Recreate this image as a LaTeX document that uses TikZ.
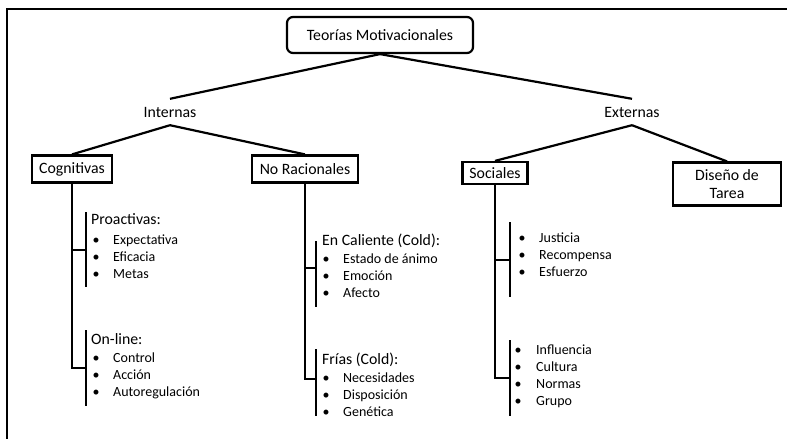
\documentclass[tikz,border=0pt]{standalone}
\usepackage{fontspec}
\setmainfont{Carlito}
\begin{document}
\begin{tikzpicture}[x=1pt,y=-1pt,
  ln/.style={line width=2.2pt},
  hdr/.style={font=\fontsize{15.8}{19}\selectfont, inner sep=0pt},
  bx/.style={draw, line width=2.2pt, inner sep=0pt, font=\fontsize{15.8}{19}\selectfont},
  itm/.style={font=\fontsize{14}{17}\selectfont, inner sep=0pt, anchor=west, text height=0.68em, text depth=0.18em},
  sub/.style={font=\fontsize{15.8}{19}\selectfont, inner sep=0pt, anchor=west, text height=0.68em, text depth=0.18em}]
\useasboundingbox (0,0) rectangle (787,439);
% frame
\draw[line width=2.2pt] (7,439) -- (7,9) -- (787,9);

% top level
\node[bx, rounded corners=6pt, minimum width=186pt, minimum height=36pt] (title) at (380,35) {Teorías Motivacionales};
\node[hdr, minimum height=26pt] (int) at (170,112) {Internas};
\node[hdr, minimum height=26pt] (ext) at (632,112) {Externas};
\draw[ln] (title.south) -- (int.north);
\draw[ln] (title.south) -- (ext.north);

% second level
\node[bx, minimum width=80pt, minimum height=27pt] (cog) at (72,169) {Cognitivas};
\node[bx, minimum width=106pt, minimum height=27pt] (nor) at (305,169) {No Racionales};
\node[bx, minimum width=65pt, minimum height=22pt] (soc) at (495,173) {Sociales};
\node[bx, minimum width=108pt, minimum height=43pt, align=center] (dis) at (727,184) {Diseño de\\[-1pt]Tarea};
\draw[ln] (int.south) -- (cog.north);
\draw[ln] (int.south) -- (nor.north);
\draw[ln] (ext.south) -- (soc.north);
\draw[ln] (ext.south) -- (dis.north);

% brackets: Cognitivas
\coordinate (c1) at (86,250); \coordinate (c1t) at (86,212); \coordinate (c1b) at (86,287);
\coordinate (c2) at (86,368); \coordinate (c2t) at (86,330); \coordinate (c2b) at (86,406);
\draw[ln] (cog.south) -- (cog.south |- c2) -- (c2);
\draw[ln] (cog.south |- c1) -- (c1);
\draw[ln] (c1t) -- (c1b);
\draw[ln] (c2t) -- (c2b);

% brackets: No Racionales
\coordinate (n1) at (316,268); \coordinate (n1t) at (316,241); \coordinate (n1b) at (316,307);
\coordinate (n2) at (316,379); \coordinate (n2t) at (316,349); \coordinate (n2b) at (316,416);
\draw[ln] (nor.south) -- (nor.south |- n2) -- (n2);
\draw[ln] (nor.south |- n1) -- (n1);
\draw[ln] (n1t) -- (n1b);
\draw[ln] (n2t) -- (n2b);

% brackets: Sociales
\coordinate (s1) at (510,260); \coordinate (s1t) at (510,222); \coordinate (s1b) at (510,297);
\coordinate (s2) at (510,378); \coordinate (s2t) at (510,340); \coordinate (s2b) at (510,416);
\draw[ln] (soc.south) -- (soc.south |- s2) -- (s2);
\draw[ln] (soc.south |- s1) -- (s1);
\draw[ln] (s1t) -- (s1b);
\draw[ln] (s2t) -- (s2b);

% headings of lists
\node[sub] (hpro) at (91,222) {Proactivas:};
\node[sub] (hon) at (91,342) {On-line:};
\node[sub] (hcal) at (322,243) {En Caliente (Cold):};
\node[sub] (hfri) at (322,362) {Frías (Cold):};

% list items
\foreach \t [count=\i] in {Expectativa, Eficacia, Metas} {
  \node[itm] (pro\i) at (113,{242+17*(\i-1)}) {\t};
  \node[itm, anchor=center] (prob\i) at (96,{242+17*(\i-1)}) {\textbullet};
}
\foreach \t [count=\i] in {Control, Acción, Autoregulación} {
  \node[itm] (on\i) at (113,{360+17*(\i-1)}) {\t};
  \node[itm, anchor=center] (onb\i) at (96,{360+17*(\i-1)}) {\textbullet};
}
\foreach \t [count=\i] in {Estado de ánimo, Emoción, Afecto} {
  \node[itm] (cal\i) at (343,{261+17*(\i-1)}) {\t};
  \node[itm, anchor=center] (calb\i) at (326,{261+17*(\i-1)}) {\textbullet};
}
\foreach \t [count=\i] in {Necesidades, Disposición, Genética} {
  \node[itm] (fri\i) at (343,{380+17*(\i-1)}) {\t};
  \node[itm, anchor=center] (frib\i) at (326,{380+17*(\i-1)}) {\textbullet};
}
\foreach \t [count=\i] in {Justicia, Recompensa, Esfuerzo} {
  \node[itm] (so\i) at (539,{240+17*(\i-1)}) {\t};
  \node[itm, anchor=center] (sob\i) at (522,{240+17*(\i-1)}) {\textbullet};
}
\foreach \t [count=\i] in {Influencia, Cultura, Normas, Grupo} {
  \node[itm] (sg\i) at (536,{352+17*(\i-1)}) {\t};
  \node[itm, anchor=center] (sgb\i) at (518,{352+17*(\i-1)}) {\textbullet};
}
\end{tikzpicture}
\end{document}
